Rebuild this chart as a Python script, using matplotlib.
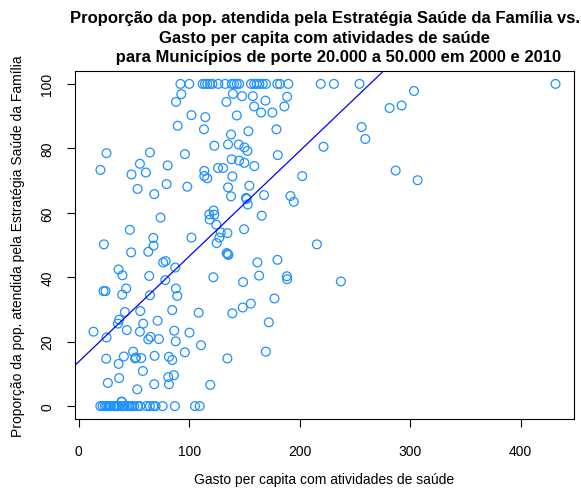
import matplotlib.pyplot as plt

plt.rcParams['font.family'] = ['Liberation Sans', 'DejaVu Sans']

# Gasto per capita com atividades de saúde (R$) e proporção da população
# atendida pela ESF (%), municípios de 20.000 a 50.000 hab., 2000 e 2010
gasto = [
    92, 100, 92.8, 88, 102, 89.5, 25.1, 64.4, 96.1, 19.6, 55.3, 47.7, 60.7,
    80.4, 79.5, 98.2, 53.2,
    68.3, 74, 46.2, 22.7, 67.4, 67.7, 47.4, 62.9, 102, 76.4, 78.6, 87.3, 36,
    39.5, 63.8, 78.3, 22.4, 24.2, 42.9, 39.3, 87.9, 89.1, 64.4,
    84.6, 55.6, 41.7, 36.5, 35.4, 58.3, 71.3, 13.3, 43.5, 55.3, 65, 62.9,
    72.5, 86.4, 87.7, 100.2, 25.1, 49.2, 40.8, 51.7, 51, 56.5, 24.8, 36,
    68.6, 81.6, 84.6, 96, 58, 36.5, 26.3, 52.9, 68.3, 81, 86.1, 81.6, 39,
    38.7,
    112.1, 114.2, 116.3, 118.7, 120.9, 126.3, 132.4, 138.4, 140.6, 143,
    145.1, 155.9, 158.7, 161.1, 163.5, 166.5, 169.5, 179.7, 182.2, 189.7,
    219, 230.9, 254, 431.5,
    139.6, 147.8, 133.6, 157.5, 168.9, 188.6, 158.7, 186.1, 165, 175.2,
    114.5, 143, 113.3, 153.5, 178.9, 137.8, 122.7, 135.1, 144.8, 149.9,
    152.6, 180.1, 138.4, 145.1, 149.9, 158.9, 126, 130.6, 113.6, 113.6,
    116.3, 139, 202.2, 135.1, 154.4,
    137.8, 167.7, 151.4, 152, 152.9, 191.6, 194.6, 122, 118.1, 122.7, 118.5,
    165.6, 124.5, 149.6, 128.5, 134.5, 127.2, 124.8, 133.9, 134.8, 135.4,
    161.7, 179.8, 121.8, 148.7, 163.2, 188.3, 188.6, 177.1,
    155.7, 148.4, 108.5, 139, 172, 110.6, 169.3, 134.5, 119,
    303.4, 281.3, 292.2, 256, 259.3, 221.5, 286.8, 306.7, 215.5, 237.2,
    19.5, 21.5, 23.6, 25, 26.6, 28, 29, 31.4, 32.5, 33.8, 35, 36, 38.7, 40,
    41.1, 44.1, 45.5, 47.1, 48.5, 50.2, 53.2, 55.6, 61.3, 64.4, 67.4, 69.5,
    75.9, 87, 105.2, 109.4,
]
cobertura = [
    100, 100, 96.8, 94.4, 90.3, 87, 78.5, 78.7, 78.2, 73.3, 75.2, 71.9, 72.5,
    74.7, 68.9, 68.1, 67.4,
    65.8, 58.5, 54.7, 50.2, 52.2, 49.8, 47.7, 47.9, 52.3, 44.6, 45, 43, 42.4,
    40.6, 40.4, 39.1, 35.7, 35.7, 36.5, 34.6, 36.5, 34.2, 34.4,
    29.8, 29.5, 29.2, 26.8, 25.6, 25.6, 26.5, 23.1, 23.6, 23.1, 21.5, 20.7,
    20.8, 23.4, 20.1, 22.8, 21.3, 16.9, 15.4, 15.1, 14.8, 14.9, 14.7, 13.1,
    15.6, 15.3, 14.3, 16.7, 10.9, 8.7, 7.2, 5.2, 6.8, 9, 9.6, 6.8, 1.3,
    1.4,
    100, 100, 100, 100, 100, 100, 100, 100, 100, 100,
    100, 100, 100, 100, 100, 100, 100, 100, 100, 100,
    100, 100, 100, 100,
    96.9, 96.2, 94.4, 96.2, 94.8, 96, 93, 93, 91.1, 91.1,
    89.7, 90.2, 85.9, 85.3, 85.9, 84.3, 80.8, 81.2, 81.2, 80.3,
    79.2, 77.9, 76.6, 76.2, 75.5, 74.5, 73.9, 73.9, 73, 71.4,
    70.7, 71.3, 71.4, 67.9, 68.4,
    65.1, 65.5, 64.6, 64.3, 62.6, 65.2, 63.4, 60.7, 59.5, 59.4, 57.9,
    59.1, 56.3, 54.9, 53.9, 53.7, 52.3, 50.6, 47.5, 47.2, 46.9,
    44.6, 45.4, 40, 38.5, 40.5, 40.3, 39.4, 33.4,
    31.8, 30.6, 29, 28.8, 26, 18.9, 16.9, 14.8, 6.6,
    97.8, 92.5, 93.3, 86.6, 82.9, 80.5, 73.1, 70.1, 50.2, 38.7,
    0, 0, 0, 0, 0, 0, 0, 0, 0, 0, 0, 0, 0, 0,
    0, 0, 0, 0, 0, 0, 0, 0, 0, 0, 0, 0,
    0, 0, 0, 0,
]

# coeficientes da regressão linear cobertura ~ gasto
intercepto = 13.8
inclinacao = 0.327

x_ticks = [0, 100, 200, 300, 400]
y_ticks = [0, 20, 40, 60, 80, 100]

titulo = ("Proporção da pop. atendida pela Estratégia Saúde da Família vs.\n"
          "Gasto per capita com atividades de saúde\n"
          "      para Municípios de porte 20.000 a 50.000 em 2000 e 2010")
x_label = "Gasto per capita com atividades de saúde"
y_label = "Proporção da pop. atendida pela Estratégia Saúde da Família"

W, H = 581, 489
fig = plt.figure(figsize=(W / 100, H / 100), dpi=100)
ax = fig.add_axes([75 / W, 1 - 420 / H, (574 - 75) / W, (420 - 72) / H])

ax.scatter(gasto, cobertura, s=40, facecolors='none',
           edgecolors='#1E90FF', linewidths=0.9)
ax.axline((0, intercepto), slope=inclinacao, color='blue', lw=0.9)

# limites no estilo do R (4% de folga em cada lado)
xmin, xmax = min(gasto), max(gasto)
ymin, ymax = min(cobertura), max(cobertura)
ax.set_xlim(xmin - 0.04 * (xmax - xmin), xmax + 0.04 * (xmax - xmin))
ax.set_ylim(ymin - 0.04 * (ymax - ymin), ymax + 0.04 * (ymax - ymin))

ax.set_xticks(x_ticks)
ax.set_yticks(y_ticks)
ax.tick_params(direction='out', length=5.8, width=0.8, labelsize=10,
               colors='black')
ax.tick_params(axis='x', pad=12)
ax.tick_params(axis='y', pad=9, labelrotation=90)
for lbl in ax.get_yticklabels():
    lbl.set_va('center')
for s in ax.spines.values():
    s.set_linewidth(0.8)

fig.text(324.5 / W, 1 - 38 / H, titulo, ha='center', va='center',
         fontsize=12, fontweight='bold', linespacing=1.34)
fig.text(324.5 / W, 1 - 480 / H, x_label, ha='center', va='center',
         fontsize=10)
fig.text(18 / W, 1 - 246 / H, y_label, ha='center', va='center',
         rotation=90, fontsize=10)

fig.savefig('out.png', dpi=100)
